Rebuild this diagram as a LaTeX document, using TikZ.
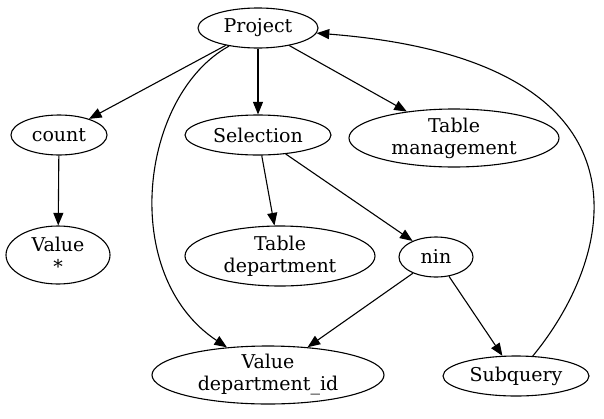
\documentclass[tikz,border=0pt]{standalone}
\usepackage{fontspec}
\setmainfont{DejaVu Serif}
\usetikzlibrary{arrows.meta,shapes}

\begin{document}
\begin{tikzpicture}[x=0.5pt,y=-0.5pt,line width=0.55pt,
  op/.style={draw,ellipse,inner sep=0pt,align=center,font=\fontsize{9.5}{11}\selectfont},
  >={Triangle[length=6.3pt,width=5pt]}]
\useasboundingbox (0,0) rectangle (604,418);
\node[op,minimum width=60pt,minimum height=20pt] (P) at (258,28) {Project};
\node[op,minimum width=48pt,minimum height=20pt] (C) at (59,135) {count};
\node[op,minimum width=73pt,minimum height=20pt] (S) at (258,135) {Selection};
\node[op,minimum width=105pt,minimum height=29pt] (TM) at (454,138) {Table\\management};
\node[op,minimum width=52pt,minimum height=29pt] (VS) at (58,255) {Value\\*};
\node[op,minimum width=95pt,minimum height=30pt] (TD) at (280,256) {Table\\department};
\node[op,minimum width=37pt,minimum height=20pt] (N) at (436,257) {nin};
\node[op,minimum width=116pt,minimum height=29pt] (VD) at (268,375) {Value\\department\_id};
\node[op,minimum width=73pt,minimum height=20pt] (SQ) at (516,376) {Subquery};
\draw[->] (P) -- (C);
\draw[->] (P) -- (S);
\draw[->] (P) -- (TM);
\draw[->] (P.212) .. controls (140,95) and (118,275) .. (VD.146);
\draw[->] (C) -- (VS);
\draw[->] (S) -- (TD);
\draw[->] (S) -- (N);
\draw[->] (N) -- (VD);
\draw[->] (N) -- (SQ);
\draw[->] (SQ.50) .. controls (620,250) and (660,60) .. (P.355);
\end{tikzpicture}
\end{document}
